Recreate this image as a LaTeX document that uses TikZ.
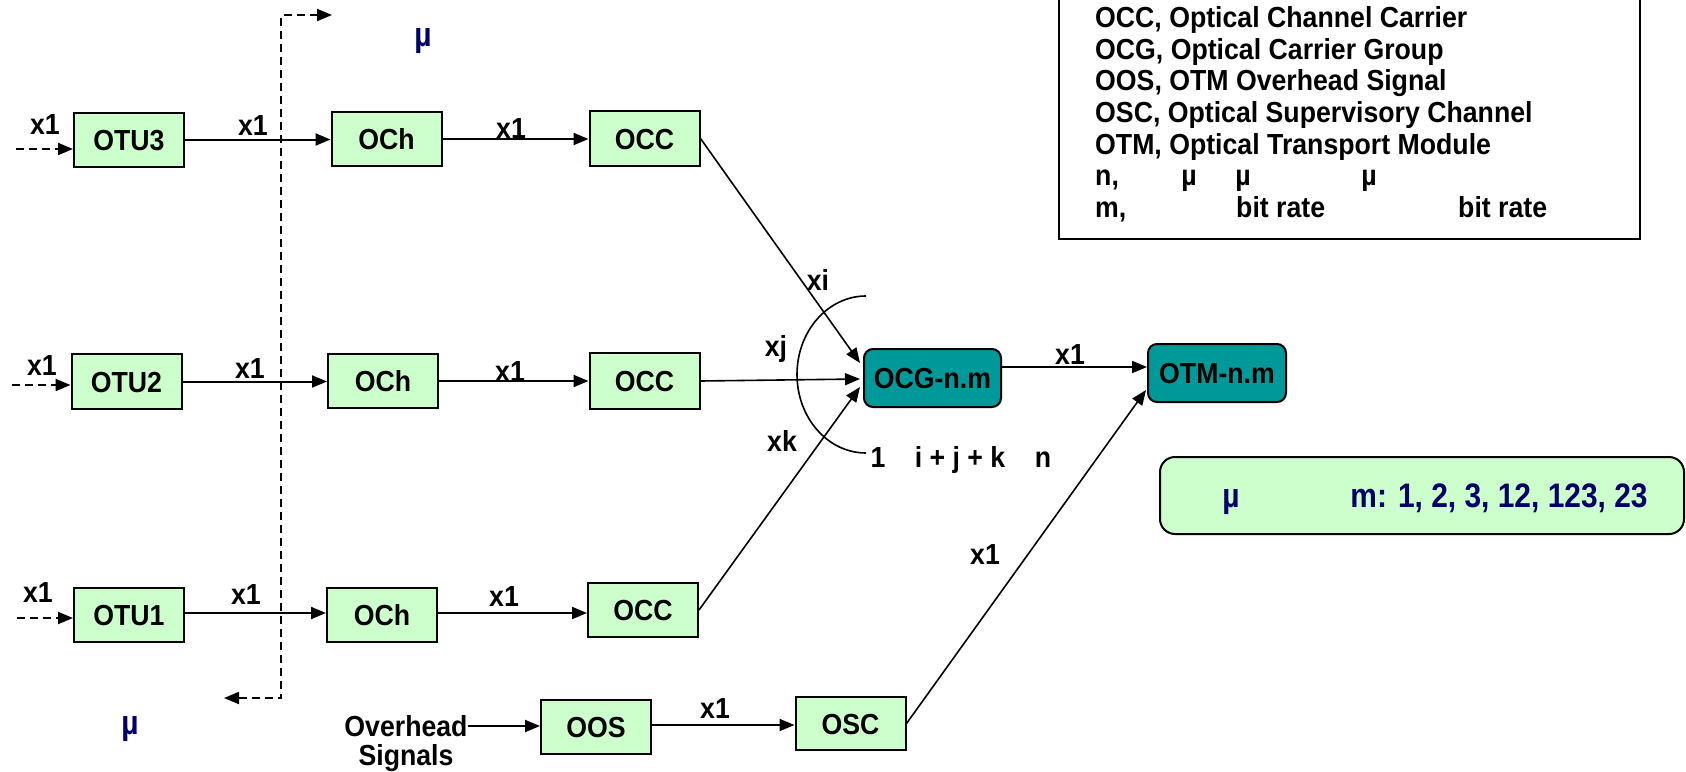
\documentclass[tikz,border=0pt]{standalone}
\usepackage{fontspec}
\setmainfont{Liberation Sans}[FakeStretch=0.92]
\newfontfamily\blufont{Liberation Sans}[FakeStretch=0.88]
\usetikzlibrary{arrows.meta,calc}
\definecolor{boxgreen}{HTML}{CCFFCC}
\definecolor{tealbox}{HTML}{009999}
\definecolor{navytext}{HTML}{000066}
\begin{document}
\begin{tikzpicture}[x=1pt,y=-1pt,
  every node/.style={font=\fontsize{29}{34}\selectfont\bfseries, inner sep=0pt, text height=21pt, text depth=0pt},
  gbox/.style={draw=black, line width=2pt, fill=boxgreen, minimum width=110pt, minimum height=54pt},
  tbox/.style={draw=black, line width=2pt, fill=tealbox, rounded corners=9pt, minimum width=137pt, minimum height=58pt},
  arr/.style={line width=2pt, -{Triangle[length=15pt,width=12pt]}},
  darr/.style={arr, dash pattern=on 8pt off 5pt},
  thin arr/.style={line width=1.6pt, -{Triangle[length=15pt,width=12pt]}},
  blu/.style={text=navytext, font=\blufont\fontsize{34}{40}\selectfont\bfseries, text height=24pt, text depth=0pt},
  leg/.style={anchor=west}
]
\useasboundingbox (0,0) rectangle (1686,771);

% dashed bent connector
\coordinate (dl) at (224,698);
\coordinate (dbl) at (281,698);
\coordinate (dtl) at (281,15);
\coordinate (dr) at (332,15);
\draw[line width=2pt, dash pattern=on 8pt off 5pt, {Triangle[length=15pt,width=12pt]}-{Triangle[length=15pt,width=12pt]}] (dl) -- (dbl) -- (dtl) -- (dr);

% boxes
\node[gbox] (otu3) at (129,139.5) {OTU3};
\node[gbox] (och3) at (386.5,139) {OCh};
\node[gbox, minimum height=55pt] (occ3) at (644.5,138.5) {OCC};
\node[gbox, minimum height=55pt] (otu2) at (126.5,381.5) {OTU2};
\node[gbox] (och2) at (383,381) {OCh};
\node[gbox, minimum height=56pt] (occ2) at (644.5,381) {OCC};
\node[gbox] (otu1) at (129,615) {OTU1};
\node[gbox] (och1) at (382,615) {OCh};
\node[gbox] (occ1) at (643,610) {OCC};
\node[gbox] (oos) at (596,727) {OOS};
\node[gbox, minimum height=53pt] (osc) at (850.5,723.5) {OSC};
\node[tbox] (ocg) at (932.5,378) {OCG-n.m};
\node[tbox, minimum width=138pt] (otm) at (1217,373) {OTM-n.m};

% inputs
\coordinate (in3) at (16,149);
\coordinate (in2) at (12,385);
\coordinate (in1) at (17,618);
\draw[darr] (in3) -- (in3 -| otu3.west);
\draw[darr] (in2) -- (in2 -| otu2.west);
\draw[darr] (in1) -- (in1 -| otu1.west);

% row connectors
\draw[arr] (otu3.east) -- (otu3.east -| och3.west);
\draw[arr] (och3.east) -- (och3.east -| occ3.west);
\draw[arr] (otu2.east) -- (otu2.east -| och2.west);
\draw[arr] (och2.east) -- (och2.east -| occ2.west);
\draw[arr] ($(otu1.east)+(0,-2)$) -- ($(otu1.east -| och1.west)+(0,-2)$);
\draw[arr] ($(och1.east)+(0,-2)$) -- ($(och1.east -| occ1.west)+(0,-2)$);

% into OCG
\draw[thin arr] (occ3.east) -- ($(ocg.west)+(-3,-15)$);
\draw[thin arr] (occ2.east) -- ($(ocg.west)+(-3,1)$);
\draw[thin arr] (occ1.east) -- ($(ocg.west)+(-3,9)$);
\draw[arr] ($(ocg.east)+(0,-11)$) -- ($(ocg.east -| otm.west)+(0,-11)$);
\draw[thin arr] (osc.east) -- ($(otm.west)+(-1,17)$);

% arc
\draw[line width=1.6pt] (866,296) arc[start angle=270, end angle=90, x radius=69, y radius=78.5];

% overhead
\node (ovh) at (406,726) {Overhead};
\node (sig) at (406,755) {Signals};
\draw[arr] (ovh.east) -- (ovh.east -| oos.west);
\draw[arr] ($(oos.east)+(0,-2)$) -- ($(oos.east -| osc.west)+(0,-2)$);

% labels
\node (l1) at (45,124) {x1};
\node (l2) at (253,125) {x1};
\node (l3) at (511,128) {x1};
\node (l4) at (42,365) {x1};
\node (l5) at (250,368) {x1};
\node (l6) at (510,371) {x1};
\node (l7) at (38,592) {x1};
\node (l8) at (246,594) {x1};
\node (l9) at (504,596) {x1};
\node (l10) at (1070,354) {x1};
\node (l11) at (985,554) {x1};
\node (l12) at (715,708) {x1};
\node (lxi) at (818,280) {xi};
\node (lxj) at (776,346) {xj};
\node (lxk) at (782,441) {xk};
\node (c1) at (878,457) {1};
\node (c2) at (960,457) {i + j + k};
\node (c3) at (1043,457) {n};

\node[blu] (mutop) at (423,34) {µ};
\node[blu] (mubot) at (130,722) {µ};

% mu box
\node[draw=black, line width=2pt, fill=boxgreen, rounded corners=15pt, minimum width=524pt, minimum height=77pt, text height=0pt, text depth=0pt] (mubox) at (1422,495.5) {};
\node[blu] (mu1) at (1231,495) {µ};
\node[blu] (mu2) at (1499,495) {m: 1, 2, 3, 12, 123, 23};

% legend
\draw[line width=2pt] (1059,-5) -- (1059,239) -- (1640,239) -- (1640,-5);
\node[leg] (g1) at (1095,17) {OCC, Optical Channel Carrier};
\node[leg] (g2) at (1095,49) {OCG, Optical Carrier Group};
\node[leg] (g3) at (1095,80) {OOS, OTM Overhead Signal};
\node[leg] (g4) at (1095,112) {OSC, Optical Supervisory Channel};
\node[leg] (g5) at (1095,144) {OTM, Optical Transport Module};
\node[leg] (g6) at (1095,175) {n,};
\node (g6a) at (1189,175) {µ};
\node (g6b) at (1243,175) {µ};
\node (g6c) at (1369,175) {µ};
\node[leg] (g7) at (1095,207) {m,};
\node[leg] (g7a) at (1236,207) {bit rate};
\node[leg] (g7b) at (1458,207) {bit rate};
\end{tikzpicture}
\end{document}
